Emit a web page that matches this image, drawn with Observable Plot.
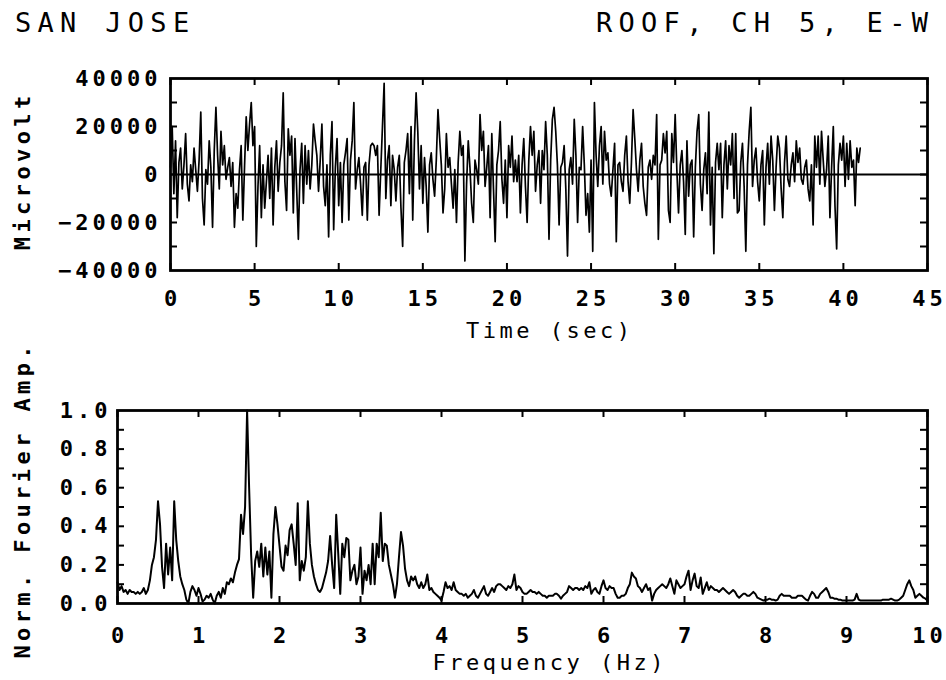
<!DOCTYPE html>
<html>
<head>
<meta charset="utf-8">
<script src="https://cdn.jsdelivr.net/npm/d3@7"></script>
<script src="https://cdn.jsdelivr.net/npm/@observablehq/plot@0.6"></script>
<style>
  body { margin: 0; background: #fff; }
  #chart { position: relative; width: 946px; height: 680px; background: #fff; overflow: hidden; }
  #chart > svg { position: absolute; left: 0; }
</style>
</head>
<body>
<div id="chart"></div>
<script>
// ---------- DATA ----------
const titleLeft = "SAN JOSE";
const titleRight = "ROOF, CH 5, E-W";
const topYLabel = "Microvolt";
const topXLabel = "Time (sec)";
const botYLabel = "Norm. Fourier Amp.";
const botXLabel = "Frequency (Hz)";

// Time series: one value every TIME_STEP seconds, in thousands of microvolts
const TIME_STEP = 0.1;
const voltK = [
  3, 20, -8, 14, -18, 5, 11, -6, 4, 17,
  -4, -11, 4, -3, 11, 2, -7, 6, 26, -10,
  -21, 2, -4, 14, 3, -22, 10, 28, 8, -6,
  18, 4, 12, -2, 3, 7, -5, 5, -22, -8,
  -14, 2, 12, -19, 3, 24, 10, 21, 30, 12,
  20, -30, -5, 12, -18, 4, -14, -3, 8, -10,
  11, -21, 3, 14, -7, 5, 12, 34, -3, -15,
  19, 8, 16, -16, 15, -6, -27, 2, 13, -12,
  12, -4, 10, -6, 4, 21, 14, 8, -7, 6,
  21, -5, -13, 4, -26, 8, 22, -23, 3, 15,
  -13, 5, -20, 4, 9, 15, -19, 6, 14, 30,
  -6, 2, 7, -4, -17, 3, 5, -19, 4, 12,
  13, 12, 8, 12, -17, 2, 20, 38, -10, 6,
  12, -13, 8, 2, -11, 3, 8, -14, -30, 5,
  10, 17, -8, 20, -19, 14, 34, 18, -6, 12,
  -12, 7, -5, -24, 4, 9, -2, -9, 6, 27,
  15, 4, -16, -6, 17, 3, 7, -4, -14, 2,
  -20, 5, 18, 8, 12, -36, -4, 14, 3, -12,
  -20, 6, 2, -4, 25, 10, 18, -5, 3, 12,
  -18, 17, -6, -28, 4, 10, 22, -2, -12, 6,
  -18, 12, 3, 16, -3, 6, -3, 8, -16, 4,
  15, -5, -20, 6, 20, 8, 18, -7, 4, 10,
  -12, 10, 2, 22, 8, -27, 6, 23, 28, 18,
  4, -21, 3, 5, 12, -6, -34, 2, 7, -4,
  23, 8, -20, 3, 2, 20, 4, -17, -8, -24,
  6, -32, 30, 8, -5, 12, 20, -4, 18, 6,
  9, -4, -9, 2, 13, -28, 4, 5, -3, -7,
  8, 16, -3, -12, 5, 27, 15, 2, -7, 6,
  13, -5, -12, -17, 3, 6, -2, 8, 4, 25,
  -27, 4, 6, 17, 9, 18, -15, -20, 17, 5,
  25, 2, -16, 4, 10, -3, -25, 14, -9, 4,
  6, -26, 3, 18, 25, -4, -15, 2, 9, -8,
  26, -21, 3, -33, 5, 13, 2, 13, -18, 4,
  14, -6, 12, 4, 17, -10, 17, -16, -15, 5,
  13, -5, -32, 4, 18, 28, -5, 6, 11, -3,
  -11, 4, 10, -21, 3, 13, -4, 16, 6, -15,
  3, 16, 11, -6, -18, 5, 16, -2, -5, 4,
  9, -3, 14, 5, 11, -2, -4, 3, 6, -6,
  -11, 4, -21, 16, 3, 16, -4, 18, 6, -5,
  2, 16, -18, 3, 20, -13, -31, 4, 13, 6,
  16, -5, 13, -2, 14, 3, 6, -13, 11, 5,
  11
];

// Normalized Fourier amplitude: one value every FREQ_STEP Hz from 0 to 10 Hz
const FREQ_STEP = 0.025;
const fourierAmp = [
  0.11, 0.07, 0.09, 0.06, 0.07, 0.05, 0.07, 0.06, 0.06, 0.05,
  0.06, 0.05, 0.06, 0.08, 0.05, 0.07, 0.12, 0.2, 0.24, 0.33,
  0.53, 0.41, 0.19, 0.08, 0.31, 0.15, 0.29, 0.12, 0.53, 0.33,
  0.22, 0.14, 0.1, 0.07, 0.02, 0.0, 0.06, 0.09, 0.07, 0.04,
  0.08, 0.05, 0.01, 0.02, 0.04, 0.03, 0.05, 0.02, 0.0, 0.04,
  0.06, 0.03, 0.08, 0.05, 0.11, 0.1, 0.13, 0.11, 0.16, 0.2,
  0.23, 0.46, 0.36, 0.5, 1.0, 0.6, 0.25, 0.03, 0.22, 0.27,
  0.19, 0.31, 0.14, 0.29, 0.15, 0.27, 0.03, 0.36, 0.5, 0.41,
  0.3, 0.19, 0.17, 0.3, 0.25, 0.38, 0.41, 0.31, 0.2, 0.52,
  0.12, 0.22, 0.17, 0.24, 0.53, 0.31, 0.2, 0.14, 0.1, 0.07,
  0.06, 0.08, 0.12, 0.16, 0.22, 0.35, 0.2, 0.08, 0.46, 0.26,
  0.05, 0.31, 0.24, 0.34, 0.33, 0.12, 0.17, 0.2, 0.1, 0.14,
  0.29, 0.05, 0.17, 0.12, 0.2, 0.1, 0.31, 0.1, 0.31, 0.24,
  0.47, 0.22, 0.31, 0.3, 0.2, 0.15, 0.1, 0.03, 0.1, 0.24,
  0.37, 0.3, 0.18, 0.12, 0.09, 0.14, 0.12, 0.14, 0.1, 0.08,
  0.11, 0.08, 0.1, 0.15, 0.07, 0.08, 0.06, 0.05, 0.04, 0.03,
  0.016, 0.06, 0.11, 0.08, 0.09, 0.07, 0.11, 0.07, 0.06, 0.05,
  0.05, 0.04, 0.05, 0.03, 0.04, 0.05, 0.07, 0.04, 0.03, 0.05,
  0.07, 0.09, 0.05, 0.04, 0.06, 0.08, 0.06, 0.09, 0.1, 0.1,
  0.09, 0.08, 0.07, 0.09, 0.08, 0.1, 0.15, 0.07, 0.09, 0.08,
  0.06, 0.05, 0.05, 0.06, 0.07, 0.06, 0.06, 0.05, 0.06, 0.05,
  0.04, 0.04, 0.03, 0.04, 0.04, 0.04, 0.05, 0.05, 0.04, 0.025,
  0.04, 0.05, 0.06, 0.09, 0.08, 0.07, 0.08, 0.08, 0.07, 0.08,
  0.07, 0.09, 0.08, 0.11, 0.05, 0.07, 0.08, 0.06, 0.05, 0.09,
  0.12, 0.08, 0.07, 0.09, 0.08, 0.08, 0.05, 0.03, 0.03, 0.04,
  0.04, 0.05, 0.08, 0.1, 0.16, 0.14, 0.13, 0.09, 0.08, 0.06,
  0.08, 0.1, 0.07, 0.08, 0.015, 0.05, 0.07, 0.08, 0.09, 0.1,
  0.09, 0.08, 0.1, 0.13, 0.09, 0.05, 0.12, 0.1, 0.08, 0.09,
  0.1, 0.14, 0.17, 0.07, 0.12, 0.155, 0.09, 0.08, 0.135, 0.05,
  0.08, 0.11, 0.07, 0.09, 0.08, 0.07, 0.07, 0.06, 0.07, 0.08,
  0.07, 0.06, 0.05, 0.06, 0.07, 0.06, 0.04, 0.03, 0.04, 0.05,
  0.05, 0.04, 0.04, 0.05, 0.06, 0.05, 0.03, 0.025, 0.02, 0.015,
  0.02, 0.02, 0.025, 0.02, 0.02, 0.015, 0.02, 0.04, 0.05, 0.04,
  0.04, 0.04, 0.04, 0.03, 0.03, 0.03, 0.04, 0.04, 0.04, 0.03,
  0.02, 0.015, 0.04, 0.06, 0.05, 0.03, 0.03, 0.05, 0.06, 0.07,
  0.08, 0.06, 0.03, 0.03, 0.025, 0.025, 0.02, 0.02, 0.015, 0.015,
  0.015, 0.015, 0.015, 0.015, 0.02, 0.05, 0.02, 0.015, 0.015, 0.015,
  0.015, 0.015, 0.015, 0.015, 0.015, 0.015, 0.015, 0.015, 0.02, 0.02,
  0.02, 0.02, 0.025, 0.02, 0.015, 0.015, 0.02, 0.03, 0.04, 0.07,
  0.1, 0.12, 0.09, 0.07, 0.03, 0.04, 0.05, 0.04, 0.03, 0.025,
  0.015
];

// Tick values
const timeTicks = [0, 5, 10, 15, 20, 25, 30, 35, 40, 45];
const voltTicks = [-40000, -20000, 0, 20000, 40000];
const voltMinorTicks = [-30000, -20000, -10000, 0, 10000, 20000, 30000];
const freqTicks = [0, 1, 2, 3, 4, 5, 6, 7, 8, 9, 10];
const ampTicks = [0, 0.2, 0.4, 0.6, 0.8, 1.0];
const ampMinorTicks = [0.1, 0.2, 0.3, 0.4, 0.5, 0.6, 0.7, 0.8, 0.9];

// ---------- LAYOUT ----------
const W = 946;
const TICK = 7;
const FONT = "'DejaVu Sans Mono', 'Liberation Mono', monospace";
const plotStyle = {
  fontFamily: FONT, fontSize: "22px", fontWeight: "bold",
  letterSpacing: "4px", background: "transparent", overflow: "visible", color: "#000"
};
const minusFmt = d => d < 0 ? "\u2212" + String(-d) : String(d);

const topL = {h: 345, mt: 78, mr: 19, mb: 75, ml: 170};
const topFW = W - topL.ml - topL.mr, topFH = topL.h - topL.mt - topL.mb;

const topPlot = Plot.plot({
  width: W, height: topL.h,
  marginTop: topL.mt, marginRight: topL.mr, marginBottom: topL.mb, marginLeft: topL.ml,
  x: {domain: [0, 45]},
  y: {domain: [-40000, 40000]},
  style: plotStyle,
  marks: [
    Plot.ruleY([0], {stroke: "#000", strokeWidth: 2.2}),
    Plot.lineY(voltK, {x: (d, i) => i * TIME_STEP, y: d => d * 1000, stroke: "#000", strokeWidth: 1.7}),
    Plot.ruleX(timeTicks, {x: d => d, insetBottom: topFH - TICK, stroke: "#000", strokeWidth: 2}),
    Plot.ruleX(timeTicks, {x: d => d, insetTop: topFH - TICK, stroke: "#000", strokeWidth: 2}),
    Plot.ruleY(voltMinorTicks, {y: d => d, insetRight: topFW - TICK, stroke: "#000", strokeWidth: 2}),
    Plot.ruleY(voltMinorTicks, {y: d => d, insetLeft: topFW - TICK, stroke: "#000", strokeWidth: 2}),
    Plot.frame({stroke: "#000", strokeWidth: 2.8}),
    Plot.axisX({ticks: timeTicks, tickSize: 0, tickPadding: 20, tickFormat: d => String(d), label: null, dx: 2}),
    Plot.axisY({ticks: voltTicks, tickSize: 0, tickPadding: 9, tickFormat: minusFmt, label: null})
  ]
});
topPlot.style.top = "0px";

const botL = {h: 335, mt: 65, mr: 19, mb: 77, ml: 117};
const botFW = W - botL.ml - botL.mr, botFH = botL.h - botL.mt - botL.mb;
const fmt1 = d3.format(".1f");

const botPlot = Plot.plot({
  width: W, height: botL.h,
  marginTop: botL.mt, marginRight: botL.mr, marginBottom: botL.mb, marginLeft: botL.ml,
  x: {domain: [0, 10]},
  y: {domain: [0, 1]},
  style: plotStyle,
  marks: [
    Plot.lineY(fourierAmp, {x: (d, i) => i * FREQ_STEP, y: d => d, stroke: "#000", strokeWidth: 2}),
    Plot.ruleX(freqTicks, {x: d => d, insetBottom: botFH - TICK, stroke: "#000", strokeWidth: 2}),
    Plot.ruleX(freqTicks, {x: d => d, insetTop: botFH - TICK, stroke: "#000", strokeWidth: 2}),
    Plot.ruleY(ampMinorTicks, {y: d => d, insetRight: botFW - TICK, stroke: "#000", strokeWidth: 2}),
    Plot.ruleY(ampMinorTicks, {y: d => d, insetLeft: botFW - TICK, stroke: "#000", strokeWidth: 2}),
    Plot.frame({stroke: "#000", strokeWidth: 2.8}),
    Plot.axisX({ticks: freqTicks, tickSize: 0, tickPadding: 24, tickFormat: d => String(d), label: null, dx: 2}),
    Plot.axisY({ticks: ampTicks, tickSize: 0, tickPadding: 6, tickFormat: fmt1, label: null})
  ]
});
botPlot.style.top = topL.h + "px";

const chart = document.getElementById("chart");
chart.appendChild(topPlot);
chart.appendChild(botPlot);

// ---------- TITLES & AXIS TITLES ----------
const overlay = d3.create("svg")
  .attr("width", W).attr("height", 680)
  .style("top", "0px").style("pointer-events", "none")
  .attr("font-family", FONT).attr("fill", "#000");

overlay.append("text").text(titleLeft)
  .attr("x", 15).attr("y", 32)
  .attr("font-size", 27).style("letter-spacing", "6.3px");
overlay.append("text").text(titleRight)
  .attr("x", 928 + 6.3).attr("y", 32).attr("text-anchor", "end")
  .attr("font-size", 27).style("letter-spacing", "6.3px");

function rotLabel(txt, x, y) {
  overlay.append("text").text(txt)
    .attr("transform", `translate(${x},${y}) rotate(-90)`)
    .attr("text-anchor", "middle").attr("dx", 2.2)
    .attr("font-size", 22).attr("font-weight", 600).style("letter-spacing", "4.4px");
}
rotLabel(topYLabel, 30, 173);
rotLabel(botYLabel, 30, 502);

function hLabel(txt, x, y) {
  overlay.append("text").text(txt)
    .attr("x", x).attr("y", y).attr("dx", 1.8)
    .attr("text-anchor", "middle")
    .attr("font-size", 22).style("letter-spacing", "3.5px");
}
hLabel(topXLabel, 548, 338);
hLabel(botXLabel, 548, 670);

chart.appendChild(overlay.node());
</script>
</body>
</html>
